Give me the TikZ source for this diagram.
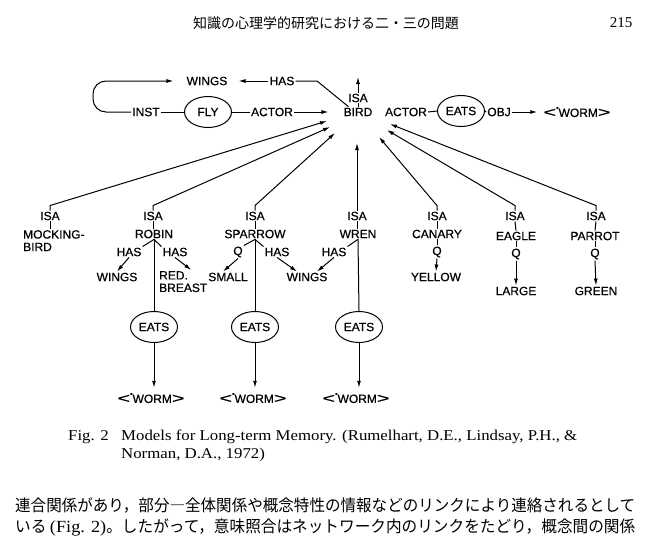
\documentclass[tikz,border=0pt]{standalone}
\usepackage{fontspec}
\usepackage{graphicx}
\setmainfont{Liberation Serif}
\newfontfamily\dsf[FakeBold=0.6]{Liberation Sans}
\newfontfamily\jp{Noto Sans CJK JP}
\newfontfamily\capfont[FakeStretch=1.12]{Liberation Serif}
\usetikzlibrary{shapes.geometric,arrows.meta}
\newcommand{\wormtxt}{\scalebox{1.8}[1.15]{\textless}\raisebox{0.55em}{\scalebox{0.6}{•}}WORM\scalebox{1.8}[1.15]{\textgreater}}
\begin{document}
\begin{tikzpicture}[x=1pt,y=-1pt,
  lbl/.style={font=\dsf\fontsize{12}{12.5}\selectfont, inner sep=1pt, align=left},
  ell/.style={ellipse, draw, line width=1pt, minimum width=47pt, minimum height=31pt, inner sep=0pt, font=\dsf\fontsize{12}{12}\selectfont},
  conn/.style={line width=1pt},
  arr/.style={conn, -{Latex[length=7pt,width=4pt]}},
  capt/.style={font=\capfont\fontsize{15}{18}\selectfont, inner sep=0pt, anchor=base west},
  jpt/.style={font=\jp\fontsize{16.3}{18}\selectfont, inner sep=0pt, anchor=base west}
  ]
\useasboundingbox[fill=white] (0,0) rectangle (646,541);

% header
\node[font=\jp\fontsize{14}{14}\selectfont, inner sep=0pt] (hdr) at (326,23) {知識の心理学的研究における二・三の問題};
\node[font=\fontsize{15}{15}\selectfont, inner sep=0pt] (pg) at (621,23) {215};

% top row
\node[lbl] (wings0) at (207,81) {WINGS};
\node[lbl] (has0) at (282,81) {HAS};
\node[lbl] (inst) at (146,112) {INST};
\node[ell] (fly) at (208,112) {FLY};
\node[lbl] (actor0) at (272,112) {ACTOR};
\node[lbl] (isa0) at (358,98) {ISA};
\node[lbl] (bird) at (358,112) {BIRD};
\node[lbl] (actor1) at (406,112) {ACTOR};
\node[ell] (eats0) at (461,111) {EATS};
\node[lbl] (obj) at (499,112) {OBJ};
\node[lbl] (worm0) at (577,112) {\wormtxt};
\coordinate (up) at (358,77);

\draw[arr, rounded corners=13pt, shorten >=12pt] (inst.west) -- (93,112) -- (93,81) -- (wings0.west);
\draw[conn] (inst.east) -- (fly.west);
\draw[conn] (fly.east) -- (actor0.west);
\draw[arr, shorten >=14pt] (actor0.east) -- (bird.west);
\draw[arr, shorten >=10pt] (has0.west) -- (wings0.east);
\draw[conn] (has0.east) -- (317,81) -- ([xshift=6pt]bird.north west);
\draw[arr] (isa0.north) -- (up);
\draw[conn] (isa0.south) -- (bird.north);
\draw[conn] (actor1.east) -- (eats0.west);
\draw[conn] (eats0.east) -- (obj.west);
\draw[arr, shorten >=5pt] (obj.east) -- (worm0.west);

% ISA row
\node[lbl] (isaM) at (50,216) {ISA};
\node[lbl] (isaR) at (153,216) {ISA};
\node[lbl] (isaS) at (255,216) {ISA};
\node[lbl] (isaW) at (357,216) {ISA};
\node[lbl] (isaC) at (437,216) {ISA};
\node[lbl] (isaE) at (515,216) {ISA};
\node[lbl] (isaP) at (596,216) {ISA};

\coordinate (bM) at (327,121);
\coordinate (bR) at (330,127);
\coordinate (bS) at (335,133);
\coordinate (bW) at (357,143);
\coordinate (bC) at (379,137);
\coordinate (bE) at (387,130);
\coordinate (bP) at (390,124);
\draw[arr] (isaM.north) -- ++(0,-5) -- (bM);
\draw[arr] (isaR.north) -- ++(0,-5) -- (bR);
\draw[arr] (isaS.north) -- ++(0,-5) -- (bS);
\draw[arr] (isaW.north) -- (bW);
\draw[arr] (isaC.north) -- ++(0,-5) -- (bC);
\draw[arr] (isaE.north) -- ++(0,-5) -- (bE);
\draw[arr] (isaP.north) -- ++(0,-5) -- (bP);

% names
\node[lbl, anchor=north west] (mock) at (22,229) {MOCKING-\\BIRD};
\node[lbl] (robin) at (154,234) {ROBIN};
\node[lbl] (sparrow) at (255,234) {SPARROW};
\node[lbl] (wren) at (358,234) {WREN};
\node[lbl] (canary) at (437,234) {CANARY};
\node[lbl] (eagle) at (516,236) {EAGLE};
\node[lbl] (parrot) at (595,236) {PARROT};
\draw[conn] (isaM.south) -- (isaM.south |- mock.north);
\draw[conn] (isaR.south) -- (isaR.south |- robin.north);
\draw[conn] (isaS.south) -- (isaS.south |- sparrow.north);
\draw[conn] (isaW.south) -- (isaW.south |- wren.north);
\draw[conn] (isaC.south) -- (canary.north);
\draw[conn] (isaE.south) -- (eagle.north);
\draw[conn] (isaP.south) -- (parrot.north);

% qualities
\node[lbl] (qC) at (437,252) {Q};
\node[lbl] (qE) at (516,254) {Q};
\node[lbl] (qP) at (595,254) {Q};
\node[lbl] (yellow) at (436,277) {YELLOW};
\node[lbl] (large) at (516,291) {LARGE};
\node[lbl] (green) at (596,291) {GREEN};
\draw[conn] (canary.south) -- (qC.north);
\draw[conn] (eagle.south) -- (qE.north);
\draw[conn] (parrot.south) -- (qP.north);
\draw[arr] (qC.south) -- (yellow.north);
\draw[arr] (qE.south) -- (large.north);
\draw[arr] (qP.south) -- (green.north);

% robin subtree
\node[lbl] (hasRL) at (129,252) {HAS};
\node[lbl] (hasRR) at (175,252) {HAS};
\node[lbl] (wingsR) at (117,277) {WINGS};
\node[lbl, anchor=north west] (redb) at (158,270) {RED.\\BREAST};
\draw[conn] (robin.south) -- (hasRL.north east);
\draw[conn] (robin.south) -- (hasRR.north west);
\draw[arr] (hasRL.south) -- (wingsR.north);
\draw[arr] (hasRR.south) -- ([xshift=8pt]redb.north);

% sparrow subtree
\node[lbl] (qS) at (238,252) {Q};
\node[lbl] (hasS) at (277,252) {HAS};
\node[lbl] (small) at (228,277) {SMALL};
\node[lbl] (wingsS) at (307,277) {WINGS};
\draw[conn] (sparrow.south) -- (qS.north east);
\draw[conn] (sparrow.south) -- (hasS.north west);
\draw[arr] (qS.south) -- ([xshift=-5pt]small.north);
\draw[arr] (hasS.south) -- ([xshift=-10pt]wingsS.north);

% wren subtree
\node[lbl] (hasW) at (334,252) {HAS};
\draw[conn] (wren.south) -- (hasW.north east);
\draw[arr] (hasW.south) -- ([xshift=10pt]wingsS.north);

% EATS chains
\node[ell] (eats1) at (154,327) {EATS};
\node[ell] (eats2) at (255,327) {EATS};
\node[ell] (eats3) at (359,327) {EATS};
\node[lbl] (worm1) at (151,398) {\wormtxt};
\node[lbl] (worm2) at (253,398) {\wormtxt};
\node[lbl] (worm3) at (356,398) {\wormtxt};
\draw[conn] (robin.south) -- (eats1.north);
\draw[conn] (sparrow.south) -- (eats2.north);
\draw[conn] (wren.south) -- (eats3.north);
\draw[arr, shorten >=4pt] (eats1.south) -- (eats1.south |- worm1.north);
\draw[arr, shorten >=4pt] (eats2.south) -- (eats2.south |- worm2.north);
\draw[arr, shorten >=4pt] (eats3.south) -- (eats3.south |- worm3.north);

% caption
\node[capt] (figno) at (68,440) {Fig. 2};
\node[capt] (cap1) at (121,440) {Models for Long-term Memory. (Rumelhart, D.E., Lindsay, P.H., \&};
\node[capt] (cap2) at (121,458) {Norman, D.A., 1972)};

% body text
\node[jpt] (jp1) at (15,511) {\resizebox{620pt}{\height}{連合関係があり，部分―全体関係や概念特性の情報などのリンクにより連絡されるとして}};
\node[jpt] (jp2) at (15,532) {\resizebox{620pt}{\height}{いる {\capfont\fontsize{17}{17}\selectfont (Fig. 2)}。したがって，意味照合はネットワーク内のリンクをたどり，概念間の関係}};
\end{tikzpicture}
\end{document}
